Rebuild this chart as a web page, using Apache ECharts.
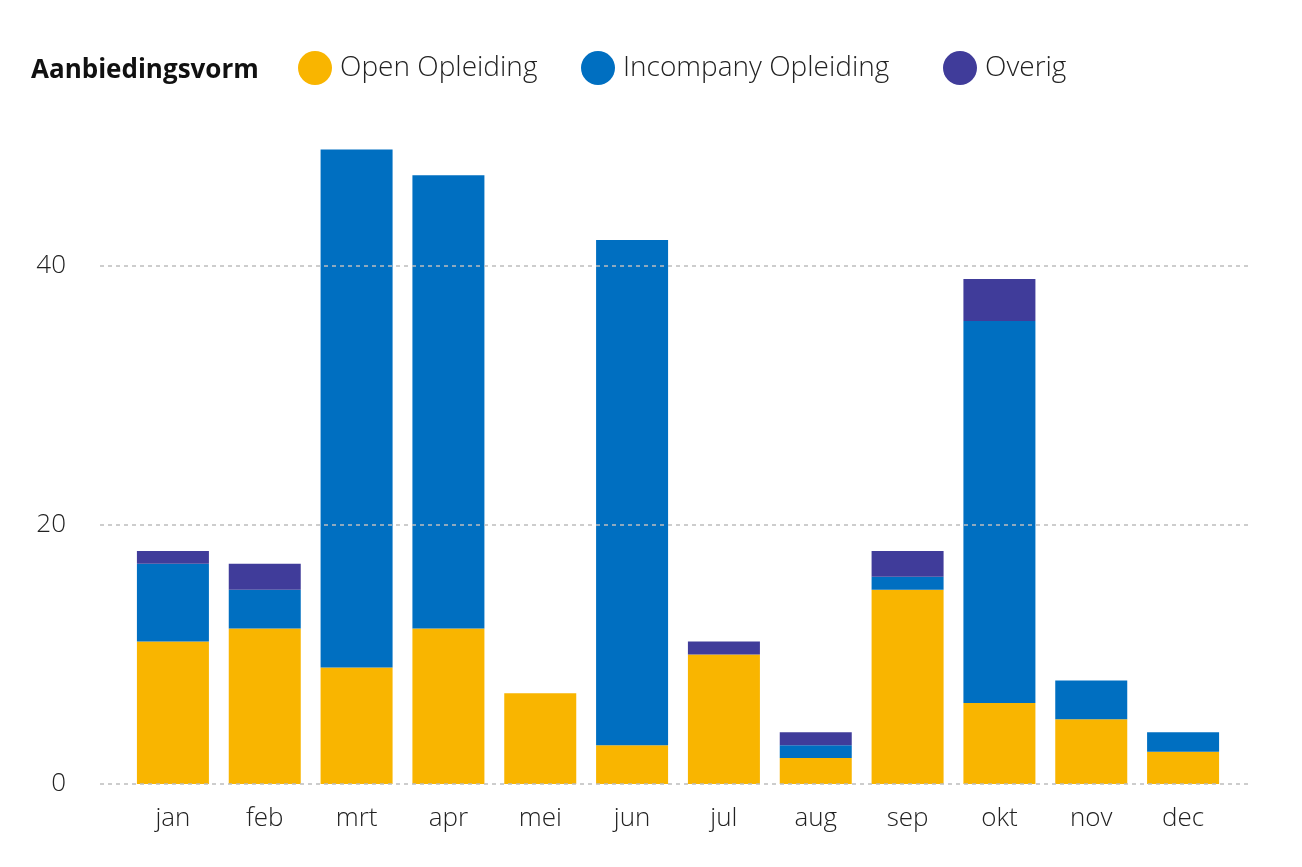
<!DOCTYPE html>
<html>
<head>
<meta charset="utf-8">
<script src="https://cdn.jsdelivr.net/npm/echarts@6/dist/echarts.min.js"></script>
<style>html,body{margin:0;padding:0;background:#fff;}#c{width:1302px;height:867px;}</style>
</head>
<body>
<div id="c"></div>
<script>
const months = ['jan','feb','mrt','apr','mei','jun','jul','aug','sep','okt','nov','dec'];
const openOpleiding = [11, 12, 9, 12, 7, 3, 10, 2, 15, 6.25, 5, 2.5];
const incompanyOpleiding = [6, 3, 40, 35, 0, 39, 0, 1, 1, 29.5, 3, 1.5];
const overig = [1, 2, 0, 0, 0, 0, 1, 1, 2, 3.25, 0, 0];
const seriesNames = ['Open Opleiding', 'Incompany Opleiding', 'Overig'];
const yTicks = [0, 20, 40];

const FONT = '"Open Sans"';
const chart = echarts.init(document.getElementById('c'));
const gridTop = 136.5, gridBottom = 83;
const legendLefts = [298, 581, 943];
chart.setOption({
  animation: false,
  textStyle: {fontFamily: FONT},
  title: {
    text: 'Aanbiedingsvorm', left: 26, top: 53,
    textStyle: {fontFamily: FONT, fontWeight: 'bold', fontSize: 26, color: '#111'}
  },
  legend: seriesNames.map((n, i) => ({
    left: legendLefts[i], top: 51, padding: 0, icon: 'circle', itemWidth: 34, itemHeight: 34,
    textStyle: {fontFamily: FONT, fontWeight: 300, fontSize: 28, color: '#222', padding: [0,0,0,3]},
    data: [n]
  })),
  grid: [
    {left: 100, right: 50, top: gridTop, bottom: gridBottom},
    {left: 127, right: 73, top: gridTop, bottom: gridBottom}
  ],
  xAxis: [
    {type: 'value', gridIndex: 0, show: false, min: 0, max: 1},
    {type: 'category', gridIndex: 1, data: months,
     axisLine: {show: false}, axisTick: {show: false},
     axisLabel: {fontFamily: FONT, fontWeight: 300, fontSize: 26, color: '#222', margin: 22}}
  ],
  yAxis: [
    {type: 'value', gridIndex: 0, min: 0, max: 50, interval: 20,
     axisLine: {show: false}, axisTick: {show: false}, splitLine: {show: false},
     axisLabel: {fontFamily: FONT, fontWeight: 300, fontSize: 26, color: '#222', margin: 34,
       padding: [5, 0, 0, 0],
       formatter: v => yTicks.includes(v) ? String(v) : ''}},
    {type: 'value', gridIndex: 1, min: 0, max: 50, show: false, splitLine: {show: false}}
  ],
  series: [
    {type: 'line', xAxisIndex: 0, yAxisIndex: 0, data: [], silent: true,
     markLine: {symbol: 'none', silent: true, label: {show: false},
       lineStyle: {color: '#bdbdbd', type: [4, 4], width: 1.5},
       data: yTicks.map(v => ({yAxis: v}))}},
    {name: seriesNames[0], type: 'bar', stack: 's', xAxisIndex: 1, yAxisIndex: 1,
     barWidth: 72, itemStyle: {color: '#F9B500'}, data: openOpleiding},
    {name: seriesNames[1], type: 'bar', stack: 's', xAxisIndex: 1, yAxisIndex: 1,
     barWidth: 72, itemStyle: {color: '#006FC1'}, data: incompanyOpleiding},
    {name: seriesNames[2], type: 'bar', stack: 's', xAxisIndex: 1, yAxisIndex: 1,
     barWidth: 72, itemStyle: {color: '#403C9A'}, data: overig}
  ]
});
</script>
</body>
</html>
